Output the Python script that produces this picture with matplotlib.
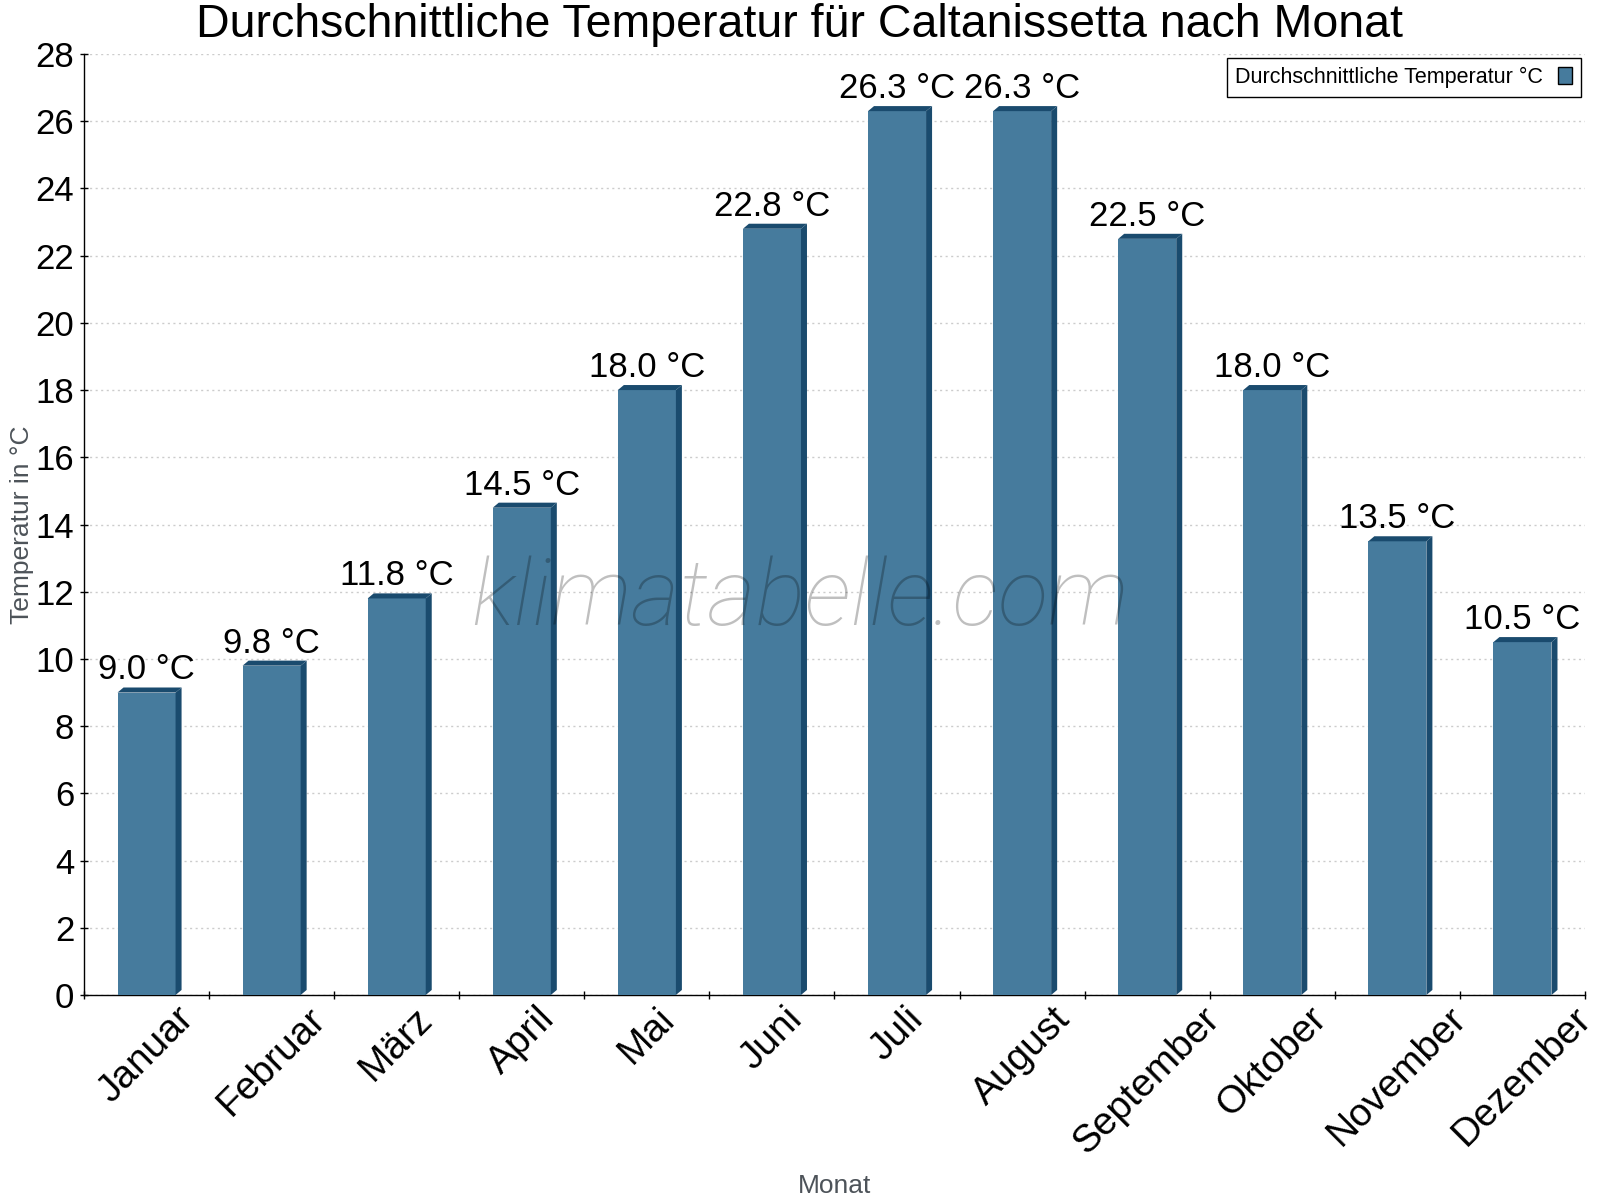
import matplotlib
matplotlib.use('Agg')
import matplotlib.pyplot as plt
from matplotlib.patches import Polygon, Patch
from matplotlib.ticker import MultipleLocator, FixedLocator
import numpy as np

# Daten
monate = ['Januar', 'Februar', 'März', 'April', 'Mai', 'Juni', 'Juli',
          'August', 'September', 'Oktober', 'November', 'Dezember']
temperatur = [9.0, 9.8, 11.8, 14.5, 18.0, 22.8, 26.3, 26.3, 22.5, 18.0, 13.5, 10.5]

titel = 'Durchschnittliche Temperatur für Caltanissetta nach Monat'
legende = 'Durchschnittliche Temperatur °C'

farbe_vorne = '#467b9d'
farbe_dunkel = '#1a4b6e'

plt.rcParams['font.family'] = ['Liberation Sans', 'DejaVu Sans']

fig = plt.figure(figsize=(16, 12), dpi=100)
ax = fig.add_axes([84 / 1600, 1 - 995 / 1200, 1501 / 1600, 941 / 1200])

x = np.arange(len(monate))
breite = 0.464
tiefe_x = 0.048   # Tiefe des 3D-Effekts in Kategorie-Einheiten
tiefe_y = 0.15    # Tiefe des 3D-Effekts in °C

ax.bar(x, temperatur, width=breite, color=farbe_vorne, zorder=3)
for xi, v in zip(x, temperatur):
    x0, x1 = xi - breite / 2, xi + breite / 2
    oben = Polygon([(x0, v), (x0 + tiefe_x, v + tiefe_y),
                    (x1 + tiefe_x, v + tiefe_y), (x1, v)],
                   closed=True, facecolor=farbe_dunkel, edgecolor='none', zorder=3)
    seite = Polygon([(x1, 0), (x1 + tiefe_x, tiefe_y),
                     (x1 + tiefe_x, v + tiefe_y), (x1, v)],
                    closed=True, facecolor=farbe_dunkel, edgecolor='none', zorder=3)
    ax.add_patch(oben)
    ax.add_patch(seite)
    ax.annotate(f'{v:.1f} °C', (xi, v), xytext=(0, 9.4), textcoords='offset points',
                ha='center', va='baseline', fontsize=25, zorder=5)

ax.set_xlim(-0.5, len(monate) - 0.5)
ax.set_ylim(0, 28)
ax.yaxis.set_major_locator(MultipleLocator(2))

ax.set_xticks(x)
ax.set_xticklabels(monate, rotation=45, ha='center', fontsize=28)
ax.tick_params(axis='x', which='major', length=0, pad=4)
ax.xaxis.set_minor_locator(FixedLocator(np.arange(-0.5, len(monate), 1.0)))
ax.tick_params(axis='x', which='minor', direction='inout', length=6, width=1)
ax.tick_params(axis='y', direction='inout', length=6, width=1, labelsize=25, pad=4)

for side in ['top', 'right']:
    ax.spines[side].set_visible(False)
ax.spines['left'].set_linewidth(1)
ax.spines['bottom'].set_linewidth(1)

ax.grid(axis='y', color='#cccccc', linestyle=(0, (1.5, 2.5)), linewidth=1, zorder=0)
ax.set_axisbelow(True)

ax.set_ylabel('Temperatur in °C', fontsize=19, color='#4d5359')
ax.yaxis.set_label_coords(-0.033, 0.5)
ax.set_xlabel('Monat', fontsize=19, color='#4d5359')
ax.xaxis.set_label_coords(0.5, -0.19)

griff = Patch(facecolor=farbe_vorne, edgecolor='black', linewidth=1)
leg = ax.legend([griff], [legende], loc='upper right', fontsize=15.5,
                markerfirst=False, fancybox=False, framealpha=1,
                edgecolor='black', borderaxespad=0.2, handlelength=0.65,
                handleheight=0.85, handletextpad=0.7, borderpad=0.4)
leg.get_frame().set_linewidth(1)
leg.set_zorder(6)

fig.text(0.5, 1 - 37 / 1200, titel, ha='center', va='baseline', fontsize=33.5)

fig.text(800 / 1600, 1 - 625 / 1200, 'klimatabelle.com', ha='center', va='baseline',
         fontsize=67, family=['Roboto', 'DejaVu Sans'], weight='light', style='italic',
         color='black', alpha=0.25, zorder=10)

fig.savefig('out.png', dpi=100)
plt.close(fig)
